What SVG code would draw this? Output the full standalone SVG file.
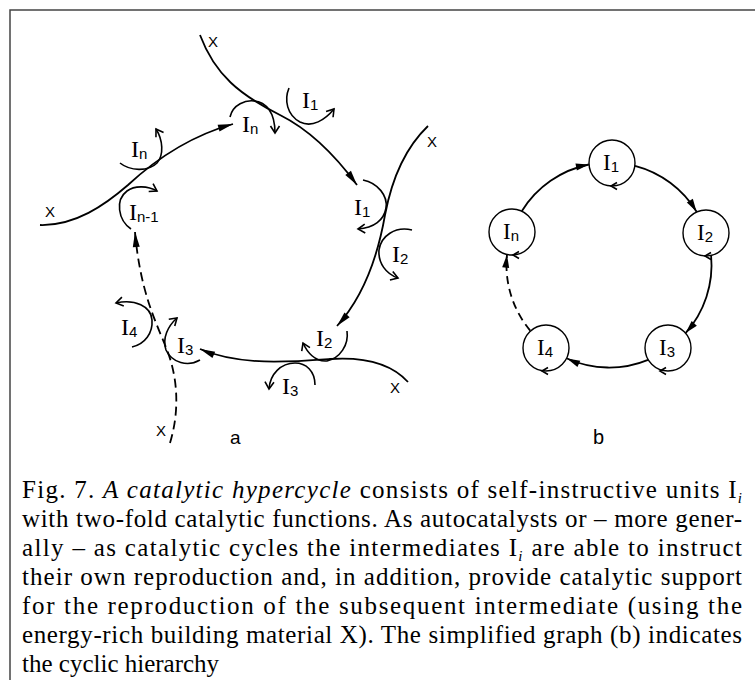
<svg xmlns="http://www.w3.org/2000/svg" width="755" height="680" viewBox="0 0 755 680">
<style>
.ln{fill:none;stroke:#000;stroke-width:1.8}
.sm{fill:none;stroke:#000;stroke-width:1.6}
.dash{stroke-dasharray:9 5}
.lbl{font-family:"Liberation Serif",serif;font-size:24px;fill:#000}
.sub{font-family:"Liberation Sans",sans-serif;font-size:15px}
.x{font-family:"Liberation Sans",sans-serif;font-size:15px;fill:#000}
.lbb{font-family:"Liberation Serif",serif;font-size:23px;fill:#000}
.nc{fill:#fff;stroke:#000;stroke-width:1.4}
.cap{font-family:"Liberation Serif","Times New Roman",serif;font-size:25px;fill:#000}
.it{font-style:italic}
</style>
<defs>
<marker id="fa" viewBox="-16 -5 17 10" refX="0" refY="0" markerWidth="17" markerHeight="10" markerUnits="userSpaceOnUse" orient="auto"><path d="M-15,-3.5 L0,0 L-15,3.5 z" fill="#000"/></marker>
<marker id="fb" viewBox="-14 -5 15 10" refX="0" refY="0" markerWidth="15" markerHeight="10" markerUnits="userSpaceOnUse" orient="auto"><path d="M-13,-3.5 L0,0 L-13,3.5 z" fill="#000"/></marker>
<marker id="oa" viewBox="-9 -6 11 12" refX="0" refY="0" markerWidth="11" markerHeight="12" markerUnits="userSpaceOnUse" orient="auto"><path d="M-7,-4.5 L0,0 L-7,4.5" fill="none" stroke="#000" stroke-width="1.6"/></marker>
</defs>
<rect width="755" height="680" fill="#fff"/>
<path d="M10,680 L10,10 L755,10" fill="none" stroke="#444" stroke-width="1.5"/>

<g id="connectors-a">
<path class="ln" d="M40,225 C75,226 105,205 128,185 C155,160 190,136 233,124" marker-end="url(#fa)"/>
<path class="ln" d="M200,35 C215,75 240,95 280,115 C310,130 335,155 357,185" marker-end="url(#fa)"/>
<path class="ln" d="M428,126 C405,148 392,178 385,215 C378,255 365,295 337,326" marker-end="url(#fa)"/>
<path class="ln" d="M408,382 C390,362 360,357 330,359 C290,362 240,366 200,349" marker-end="url(#fa)"/>
<path class="ln dash" d="M170,443 C180,410 178,375 165,345 C155,320 140,290 135,232" marker-end="url(#fa)"/>
</g>
<g id="x-labels">
<text class="x" x="208" y="47">X</text>
<text class="x" x="427" y="147">X</text>
<text class="x" x="45" y="217">X</text>
<text class="x" x="390" y="393">X</text>
<text class="x" x="156" y="436">X</text>
</g>

<g id="a-In-top">
<path class="sm" d="M230,117 C233,104 246,100 254,101 C266,102 275,112 275,133" marker-end="url(#oa)"/>
<text class="lbl" x="242" y="132">I<tspan class="sub" dy="2">n</tspan></text>
</g>
<g id="a-I1-top">
<path class="sm" d="M289,88 C284,100 287,115 300,122 C312,128 325,120 334,109" marker-end="url(#oa)"/>
<text class="lbl" x="302" y="108">I<tspan class="sub" dy="2">1</tspan></text>
</g>
<g id="a-In-left">
<path class="sm" d="M120,163 C130,171 148,172 157,163 C164,155 163,140 156,129" marker-end="url(#oa)"/>
<text class="lbl" x="131" y="157">I<tspan class="sub" dy="2">n</tspan></text>
</g>
<g id="a-In-1">
<path class="sm" d="M131,229 C118,220 115,200 127,191 C135,185 148,186 157,191" marker-end="url(#oa)"/>
<text class="lbl" x="129" y="220">I<tspan class="sub" dy="2">n-1</tspan></text>
</g>
<g id="a-I1-right">
<path class="sm" d="M363,180 C378,183 388,196 386,208 C384,220 374,228 358,229" marker-end="url(#oa)"/>
<text class="lbl" x="354" y="215">I<tspan class="sub" dy="2">1</tspan></text>
</g>
<g id="a-I2-right">
<path class="sm" d="M412,230 C395,226 381,236 379,250 C378,263 386,274 398,278" marker-end="url(#oa)"/>
<text class="lbl" x="392" y="262">I<tspan class="sub" dy="2">2</tspan></text>
</g>
<g id="a-I2-bottom">
<path class="sm" d="M347,331 C349,345 340,358 327,361 C315,362 307,352 303,343" marker-end="url(#oa)"/>
<text class="lbl" x="316" y="346">I<tspan class="sub" dy="2">2</tspan></text>
</g>
<g id="a-I3-bottom">
<path class="sm" d="M315,385 C315,371 306,363 295,363 C281,363 270,374 269,389" marker-end="url(#oa)"/>
<text class="lbl" x="282" y="394">I<tspan class="sub" dy="2">3</tspan></text>
</g>
<g id="a-I3-left">
<path class="sm" d="M200,360 C188,367 172,363 166,350 C162,338 168,326 177,318" marker-end="url(#oa)"/>
<text class="lbl" x="177" y="353">I<tspan class="sub" dy="2">3</tspan></text>
</g>
<g id="a-I4">
<path class="sm" d="M132,347 C145,344 153,333 152,320 C151,306 135,299 116,303" marker-end="url(#oa)"/>
<text class="lbl" x="121" y="335">I<tspan class="sub" dy="2">4</tspan></text>
</g>
<text x="230" y="444" font-family="'Liberation Sans',sans-serif" font-size="19">a</text>

<g id="connectors-b">
<path class="ln" d="M521.9,211 A102.5,102.5 0 0 1 588.9,164.5" marker-end="url(#fb)"/>
<path class="ln" d="M635,165.9 A102.5,102.5 0 0 1 696.6,211.7" marker-end="url(#fb)"/>
<path class="ln" d="M711.1,255.5 A102.5,102.5 0 0 1 685.6,333.1" marker-end="url(#fb)"/>
<path class="ln" d="M648.1,359.8 A102.5,102.5 0 0 1 567,358.5" marker-end="url(#fb)"/>
<path class="ln" d="M530.2,330.6 A102.5,102.5 0 0 1 507,254.6" stroke-dasharray="8 5" marker-end="url(#fb)"/>
</g>
<g id="b-I1">
<circle class="nc" cx="612" cy="163" r="23"/>
<path class="sm" stroke-width="1" d="M617,182.5 L611,186 L617,189.5"/>
<text class="lbb" x="611" y="170" text-anchor="middle">I<tspan class="sub" font-size="14" dy="2">1</tspan></text>
</g>
<g id="b-I2">
<circle class="nc" cx="706" cy="233" r="23"/>
<path class="sm" stroke-width="1" d="M711,252.5 L705,256 L711,259.5"/>
<text class="lbb" x="705" y="240" text-anchor="middle">I<tspan class="sub" font-size="14" dy="2">2</tspan></text>
</g>
<g id="b-I3">
<circle class="nc" cx="668" cy="348" r="23"/>
<path class="sm" stroke-width="1" d="M666,367.5 L660,371 L666,374.5"/>
<text class="lbb" x="667" y="355" text-anchor="middle">I<tspan class="sub" font-size="14" dy="2">3</tspan></text>
</g>
<g id="b-I4">
<circle class="nc" cx="546" cy="348" r="23"/>
<path class="sm" stroke-width="1" d="M548,367.5 L542,371 L548,374.5"/>
<text class="lbb" x="545" y="355" text-anchor="middle">I<tspan class="sub" font-size="14" dy="2">4</tspan></text>
</g>
<g id="b-In">
<circle class="nc" cx="512" cy="232" r="23"/>
<path class="sm" stroke-width="1" d="M519,251.5 L513,255 L519,258.5"/>
<text class="lbb" x="511" y="239" text-anchor="middle">I<tspan class="sub" font-size="14" dy="2">n</tspan></text>
</g>
<text x="593" y="444" font-family="'Liberation Sans',sans-serif" font-size="20">b</text>

<g id="caption" class="cap">
<text x="22" y="498" textLength="720" lengthAdjust="spacing">Fig. 7. <tspan class="it">A catalytic hypercycle</tspan> consists of self-instructive units I<tspan class="it" font-size="15" dy="5">i</tspan></text>
<text x="22" y="527" textLength="720" lengthAdjust="spacing">with two-fold catalytic functions. As autocatalysts or – more gener-</text>
<text x="22" y="556" textLength="720" lengthAdjust="spacing">ally – as catalytic cycles the intermediates I<tspan class="it" font-size="15" dy="5">i</tspan><tspan dy="-5"> are able to instruct</tspan></text>
<text x="22" y="585" textLength="720" lengthAdjust="spacing">their own reproduction and, in addition, provide catalytic support</text>
<text x="22" y="614" textLength="720" lengthAdjust="spacing">for the reproduction of the subsequent intermediate (using the</text>
<text x="22" y="643" textLength="720" lengthAdjust="spacing">energy-rich building material X). The simplified graph (b) indicates</text>
<text x="22" y="672">the cyclic hierarchy</text>
</g>
</svg>
